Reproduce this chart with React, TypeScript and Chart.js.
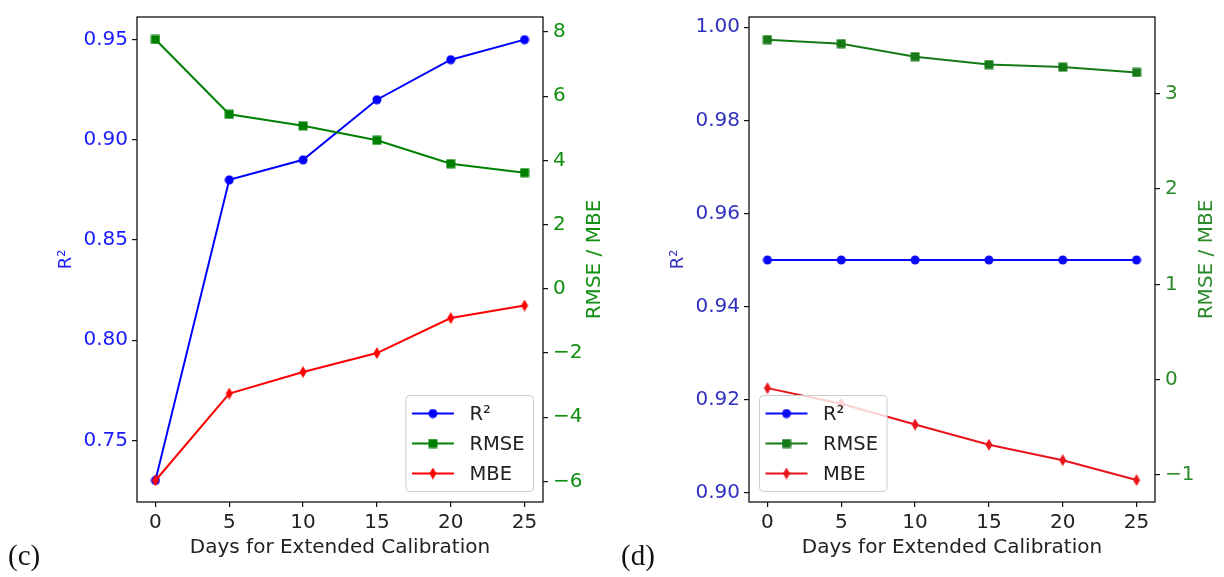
import React, { useEffect, useRef } from 'react';
import { Chart, registerables } from 'chart.js';

Chart.register(...registerables);

// ---------- data ----------
const DAYS = [0, 5, 10, 15, 20, 25];
const X_TICKS = [0, 5, 10, 15, 20, 25];
const X_TITLE = 'Days for Extended Calibration';
const LEFT_TITLE = 'R²';
const RIGHT_TITLE = 'RMSE / MBE';
const SERIES_LABELS = ['R²', 'RMSE', 'MBE'];

// panel (c)
const C_R2 = [0.73, 0.88, 0.89, 0.92, 0.94, 0.95];
const C_RMSE = [7.77, 5.44, 5.08, 4.63, 3.9, 3.62];
const C_MBE = [-5.97, -3.26, -2.59, -2.0, -0.91, -0.52];
const C_LEFT_TICKS = [0.75, 0.8, 0.85, 0.9, 0.95];
const C_RIGHT_TICKS = [-6, -4, -2, 0, 2, 4, 6, 8];
const C_LEFT_RANGE = [0.7192, 0.9613];
const C_RIGHT_RANGE = [-6.64, 8.47];

// panel (d)
const D_R2 = [0.95, 0.95, 0.95, 0.95, 0.95, 0.95];
const D_RMSE = [3.568, 3.526, 3.39, 3.307, 3.28, 3.224];
const D_MBE = [-0.089, -0.252, -0.471, -0.683, -0.845, -1.054];
const D_LEFT_TICKS = [0.9, 0.92, 0.94, 0.96, 0.98, 1.0];
const D_RIGHT_TICKS = [-1, 0, 1, 2, 3];
const D_LEFT_RANGE = [0.898, 1.0022];
const D_RIGHT_RANGE = [-1.284, 3.806];

const X_RANGE = [-1.25, 26.25];

const FONT = '"DejaVu Sans", sans-serif';

// ---------- helpers ----------
type Shape = 'circle' | 'square' | 'thinDiamond';

function makeMarker(shape: Shape, fill: string): HTMLCanvasElement {
  const c = document.createElement('canvas');
  if (shape === 'thinDiamond') {
    c.width = 8;
    c.height = 12;
  } else {
    c.width = 10;
    c.height = 10;
  }
  const g = c.getContext('2d')!;
  g.fillStyle = fill;
  const w = c.width;
  const h = c.height;
  g.beginPath();
  if (shape === 'circle') {
    g.arc(w / 2, h / 2, 4.5, 0, Math.PI * 2);
  } else if (shape === 'square') {
    g.rect(0.5, 0.5, 9, 9);
  } else {
    g.moveTo(w / 2, 0);
    g.lineTo(w - 0.5, h / 2);
    g.lineTo(w / 2, h);
    g.lineTo(0.5, h / 2);
    g.closePath();
  }
  g.fill();
  return c;
}

const fmtMinus = (v: number) => (v < 0 ? '\u2212' + Math.abs(v) : String(v));

const framePlugin = {
  id: 'mplFrame',
  afterDatasetsDraw(chart: any) {
    const { ctx, chartArea: a } = chart;
    ctx.save();
    ctx.strokeStyle = '#111';
    ctx.lineWidth = 1.3;
    ctx.strokeRect(a.left, a.top, a.right - a.left, a.bottom - a.top);
    ctx.restore();
  },
};

const rightTitlePlugin = {
  id: 'rightTitle',
  afterDraw(chart: any, _args: any, opts: any) {
    const { ctx, chartArea: a } = chart;
    ctx.save();
    ctx.translate(a.right + opts.offset, (a.top + a.bottom) / 2);
    ctx.rotate(-Math.PI / 2);
    ctx.font = `20px ${FONT}`;
    ctx.fillStyle = opts.color;
    ctx.textAlign = 'center';
    ctx.textBaseline = 'middle';
    ctx.fillText(opts.text, 0, 0);
    ctx.restore();
  },
};

const legendPlugin = {
  id: 'mplLegend',
  afterDraw(chart: any, _args: any, opts: any) {
    const { ctx, chartArea: a } = chart;
    const items = opts.order.map((i: number) => chart.data.datasets[i]);
    ctx.save();
    ctx.font = `19.5px ${FONT}`;
    const textW = Math.max(...items.map((d: any) => ctx.measureText(d.label).width));
    const rowH = 30;
    const padL = 6;
    const handleLen = 42;
    const handlePad = 15.5;
    const padR = 9;
    const padV = 18;
    const w = padL + handleLen + handlePad + textW + padR;
    const h = padV * 2 + rowH * (items.length - 1);
    const x = opts.corner === 'right' ? a.right - 9.5 - w : a.left + 10.5;
    const y = a.bottom - 10.5 - h;
    ctx.beginPath();
    if ((ctx as any).roundRect) (ctx as any).roundRect(x, y, w, h, 4);
    else ctx.rect(x, y, w, h);
    ctx.fillStyle = 'rgba(255,255,255,0.8)';
    ctx.fill();
    ctx.strokeStyle = '#cccccc';
    ctx.lineWidth = 1;
    ctx.stroke();
    items.forEach((d: any, i: number) => {
      const cy = y + padV + rowH * i;
      ctx.beginPath();
      ctx.strokeStyle = d.borderColor;
      ctx.lineWidth = 2;
      ctx.moveTo(x + padL, cy);
      ctx.lineTo(x + padL + handleLen, cy);
      ctx.stroke();
      const m = d.pointStyle as HTMLCanvasElement;
      ctx.drawImage(m, x + padL + handleLen / 2 - m.width / 2, cy - m.height / 2);
      ctx.fillStyle = '#222';
      ctx.textAlign = 'left';
      ctx.textBaseline = 'middle';
      ctx.fillText(d.label, x + padL + handleLen + handlePad, cy + 1);
    });
    ctx.restore();
  },
};

interface PanelSpec {
  tag: string;
  r2: number[];
  rmse: number[];
  mbe: number[];
  leftTicks: number[];
  rightTicks: number[];
  leftRange: number[];
  rightRange: number[];
  colors: { blue: string; green: string; red: string; leftText: string; rightText: string };
  legendCorner: 'left' | 'right';
}

function buildConfig(s: PanelSpec): any {
  const pts = (vals: number[]) => DAYS.map((x, i) => ({ x, y: vals[i] }));
  const ds = (label: string, vals: number[], color: string, shape: Shape, axis: string, order: number) => ({
    label,
    data: pts(vals),
    yAxisID: axis,
    borderColor: color,
    backgroundColor: color,
    borderWidth: 2,
    pointStyle: makeMarker(shape, color),
    pointRadius: 5,
    pointHoverRadius: 5,
    tension: 0,
    order,
  });
  const tickGrid = {
    display: true,
    drawOnChartArea: false,
    drawTicks: true,
    tickLength: 5,
    color: '#111',
    lineWidth: 1.2,
  };
  return {
    type: 'line',
    data: {
      datasets: [
        ds(SERIES_LABELS[0], s.r2, s.colors.blue, 'circle', 'yL', 2),
        ds(SERIES_LABELS[1], s.rmse, s.colors.green, 'square', 'yR', 1),
        ds(SERIES_LABELS[2], s.mbe, s.colors.red, 'thinDiamond', 'yR', 0),
      ],
    },
    options: {
      animation: false,
      responsive: false,
      maintainAspectRatio: false,
      events: [],
      layout: { padding: { top: 6, left: 0, right: 0, bottom: 0 } },
      plugins: {
        legend: { display: false },
        tooltip: { enabled: false },
        mplLegend: { order: [0, 1, 2], corner: s.legendCorner },
        rightTitle: { text: RIGHT_TITLE, color: s.colors.rightText, offset: 51.5 },
      },
      scales: {
        x: {
          type: 'linear',
          min: X_RANGE[0],
          max: X_RANGE[1],
          afterBuildTicks: (sc: any) => {
            sc.ticks = X_TICKS.map((v) => ({ value: v }));
          },
          afterFit: (sc: any) => {
            sc.height = 75;
          },
          grid: tickGrid,
          border: { display: false },
          ticks: {
            color: '#222',
            font: { family: FONT, size: 20 },
            padding: 4,
            maxRotation: 0,
            autoSkip: false,
            callback: (v: number) => String(v),
          },
          title: {
            display: true,
            text: X_TITLE,
            color: '#222',
            font: { family: FONT, size: 20 },
            padding: { top: 0, bottom: 17 },
          },
        },
        yL: {
          type: 'linear',
          position: 'left',
          min: s.leftRange[0],
          max: s.leftRange[1],
          afterBuildTicks: (sc: any) => {
            sc.ticks = s.leftTicks.map((v) => ({ value: v }));
          },
          afterFit: (sc: any) => {
            sc.width = 137;
          },
          grid: tickGrid,
          border: { display: false },
          ticks: {
            color: s.colors.leftText,
            font: { family: FONT, size: 20 },
            padding: 4,
            callback: (v: number) => Number(v).toFixed(2),
          },
          title: {
            display: true,
            text: LEFT_TITLE,
            color: s.colors.leftText,
            font: { family: FONT, size: 18 },
            padding: { top: 56, bottom: 0 },
          },
        },
        yR: {
          type: 'linear',
          position: 'right',
          min: s.rightRange[0],
          max: s.rightRange[1],
          afterBuildTicks: (sc: any) => {
            sc.ticks = s.rightTicks.map((v) => ({ value: v }));
          },
          afterFit: (sc: any) => {
            sc.width = 69;
          },
          grid: tickGrid,
          border: { display: false },
          ticks: {
            color: s.colors.rightText,
            font: { family: FONT, size: 20 },
            padding: 5,
            callback: (v: number) => fmtMinus(Number(v)),
          },
        },
      },
    },
    plugins: [framePlugin, legendPlugin, rightTitlePlugin],
  };
}

const PANEL_C: PanelSpec = {
  tag: '(c)',
  r2: C_R2,
  rmse: C_RMSE,
  mbe: C_MBE,
  leftTicks: C_LEFT_TICKS,
  rightTicks: C_RIGHT_TICKS,
  leftRange: C_LEFT_RANGE,
  rightRange: C_RIGHT_RANGE,
  colors: { blue: '#0000ff', green: '#008000', red: '#ff0000', leftText: '#1a1aff', rightText: '#108f10' },
  legendCorner: 'right',
};

const PANEL_D: PanelSpec = {
  tag: '(d)',
  r2: D_R2,
  rmse: D_RMSE,
  mbe: D_MBE,
  leftTicks: D_LEFT_TICKS,
  rightTicks: D_RIGHT_TICKS,
  leftRange: D_LEFT_RANGE,
  rightRange: D_RIGHT_RANGE,
  colors: { blue: '#0a0af5', green: '#157a15', red: '#e8141a', leftText: '#3030c0', rightText: '#2a8a2a' },
  legendCorner: 'left',
};

function Panel({ spec, left, tagLeft }: { spec: PanelSpec; left: number; tagLeft: number }) {
  const ref = useRef<HTMLCanvasElement>(null);
  useEffect(() => {
    const chart = new Chart(ref.current as HTMLCanvasElement, buildConfig(spec));
    return () => chart.destroy();
  }, [spec]);
  return (
    <div style={{ position: 'absolute', left, top: 0, width: 612, height: 577 }}>
      <canvas ref={ref} width={612} height={577} style={{ display: 'block', width: 612, height: 577 }} />
      <div
        style={{
          position: 'absolute',
          left: tagLeft,
          top: 540,
          fontFamily: '"Liberation Serif", "Times New Roman", serif',
          fontSize: 29,
          lineHeight: '30px',
          color: '#111',
        }}
      >
        {spec.tag}
      </div>
    </div>
  );
}

export default function App() {
  return (
    <div style={{ position: 'fixed', left: 0, top: 0, width: 1224, height: 577, background: '#fff', overflow: 'hidden' }}>
      <Panel spec={PANEL_C} left={0} tagLeft={8} />
      <Panel spec={PANEL_D} left={612} tagLeft={9} />
    </div>
  );
}
